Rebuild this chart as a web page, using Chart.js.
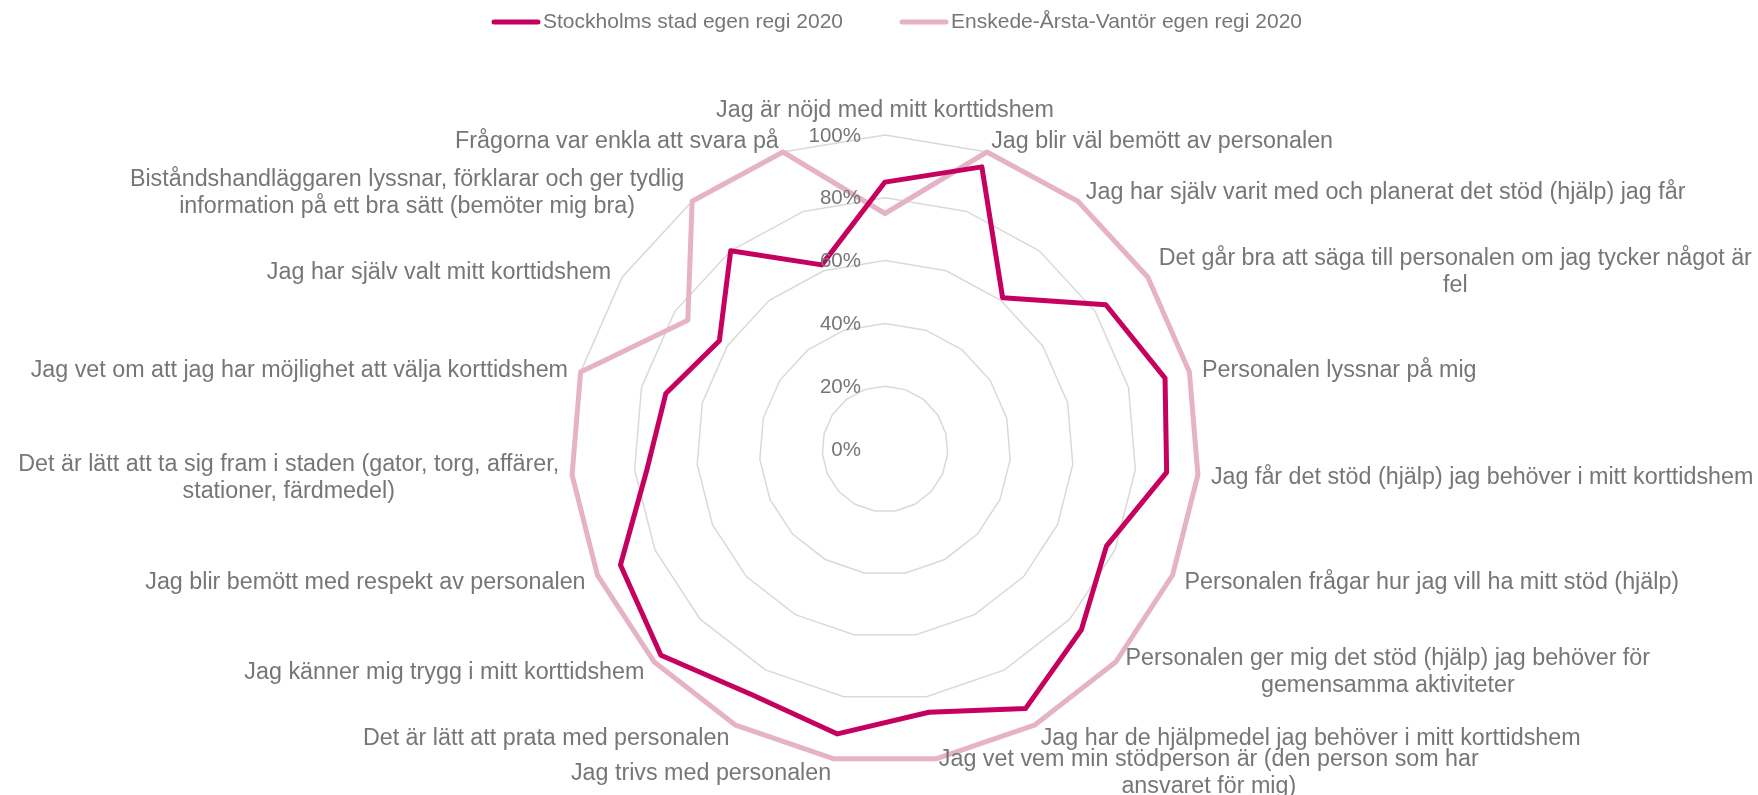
<!DOCTYPE html>
<html><head><meta charset="utf-8">
<script src="https://cdn.jsdelivr.net/npm/chart.js@4/dist/chart.umd.min.js"></script>
<style>html,body{margin:0;padding:0;background:#fff;}#wrap{width:1758px;height:795px;position:relative;}</style>
</head><body><div id="wrap"><canvas id="c"></canvas></div>
<script>
const categories = [
  'Jag är nöjd med mitt korttidshem',
  'Jag blir väl bemött av personalen',
  'Jag har själv varit med och planerat det stöd (hjälp) jag får',
  ['Det går bra att säga till personalen om jag tycker något är', 'fel'],
  'Personalen lyssnar på mig',
  'Jag får det stöd (hjälp) jag behöver i mitt korttidshem',
  'Personalen frågar hur jag vill ha mitt stöd (hjälp)',
  ['Personalen ger mig det stöd (hjälp) jag behöver för', 'gemensamma aktiviteter'],
  'Jag har de hjälpmedel jag behöver i mitt korttidshem',
  ['Jag vet vem min stödperson är (den person som har', 'ansvaret för mig)'],
  'Jag trivs med personalen',
  'Det är lätt att prata med personalen',
  'Jag känner mig trygg i mitt korttidshem',
  'Jag blir bemött med respekt av personalen',
  ['Det är lätt att ta sig fram i staden (gator, torg, affärer,', 'stationer, färdmedel)'],
  'Jag vet om att jag har möjlighet att välja korttidshem',
  'Jag har själv valt mitt korttidshem',
  ['Biståndshandläggaren lyssnar, förklarar och ger tydlig', 'information på ett bra sätt (bemöter mig bra)'],
  'Frågorna var enkla att svara på'
];
const stockholmValues = [85, 95, 61, 84, 92, 90, 77, 85, 94, 85, 92, 89, 97, 92, 76, 72, 63, 80, 62];
const enskedeValues   = [75, 100, 100, 100, 100, 100, 100, 100, 100, 100, 100, 100, 100, 100, 100, 100, 75, 100, 100];
const seriesNames = ['Stockholms stad egen regi 2020', 'Enskede-Årsta-Vantör egen regi 2020'];
const tickStep = 20;
const tickSuffix = '%';

const FONT = '"Liberation Sans", Arial, sans-serif';
const TEXT = '#767676';
const COLORS = ['#C6005E', '#E6B2C6'];
const CX = 885, CY = 449, R = 314, LABEL_GAP = 13, LINE_H = 27, TEXT_DY = 2;

const labelPlugin = {
  id: 'excelLabels',
  afterDraw(chart) {
    const ctx = chart.ctx, s = chart.scales.r;
    ctx.save();
    ctx.fillStyle = TEXT;
    // tick labels
    ctx.font = '20.5px ' + FONT;
    ctx.textAlign = 'right';
    ctx.textBaseline = 'middle';
    s.ticks.forEach(t => {
      const d = s.getDistanceFromCenterForValue(t.value);
      ctx.fillText(t.value + tickSuffix, s.xCenter - 24, s.yCenter - d + 1);
    });
    // category labels
    ctx.font = '23.3px ' + FONT;
    ctx.textAlign = 'center';
    chart.data.labels.forEach((lab, i) => {
      const lines = Array.isArray(lab) ? lab : [lab];
      const p = s.getPointPosition(i, s.drawingArea + LABEL_GAP);
      const w = Math.max(...lines.map(l => ctx.measureText(l).width));
      const h = lines.length * LINE_H;
      const dx = p.x - s.xCenter;
      let left, top;
      if (Math.abs(dx) < 1) { left = p.x - w / 2; top = p.y - h; }
      else if (dx > 0) { left = p.x; top = p.y - h / 2; }
      else { left = p.x - w; top = p.y - h / 2; }
      lines.forEach((l, k) => ctx.fillText(l, left + w / 2, top + LINE_H * (k + 0.5) + TEXT_DY));
    });
    // legend
    ctx.font = '21px ' + FONT;
    ctx.textAlign = 'left';
    let x = 492;
    const ly = 22;
    chart.data.datasets.forEach(ds => {
      ctx.strokeStyle = ds.borderColor;
      ctx.lineWidth = 5;
      ctx.lineCap = 'round';
      ctx.beginPath(); ctx.moveTo(x + 2, ly); ctx.lineTo(x + 46, ly); ctx.stroke();
      ctx.fillStyle = TEXT;
      ctx.fillText(ds.label, x + 51, ly);
      x += 51 + ctx.measureText(ds.label).width + 57;
    });
    ctx.restore();
  }
};

new Chart(document.getElementById('c'), {
  type: 'radar',
  data: {
    labels: categories,
    datasets: [
      { label: seriesNames[0], data: stockholmValues, borderColor: COLORS[0], backgroundColor: COLORS[0], borderWidth: 5, fill: false },
      { label: seriesNames[1], data: enskedeValues, borderColor: COLORS[1], backgroundColor: COLORS[1], borderWidth: 5, fill: false }
    ]
  },
  options: {
    responsive: true, maintainAspectRatio: false, animation: false,
    layout: { padding: 0 },
    plugins: { legend: { display: false }, tooltip: { enabled: false } },
    elements: { line: { tension: 0, borderJoinStyle: 'round' }, point: { radius: 0, hoverRadius: 0 } },
    scales: {
      r: {
        min: 0, max: 100,
        ticks: { display: false, stepSize: tickStep },
        angleLines: { display: false },
        grid: { color: '#D9D9D9', lineWidth: 1.5 },
        pointLabels: { display: false },
        afterFit: (s) => { s.xCenter = CX; s.yCenter = CY; s.drawingArea = R; }
      }
    }
  },
  plugins: [labelPlugin]
});
</script>
</body></html>
